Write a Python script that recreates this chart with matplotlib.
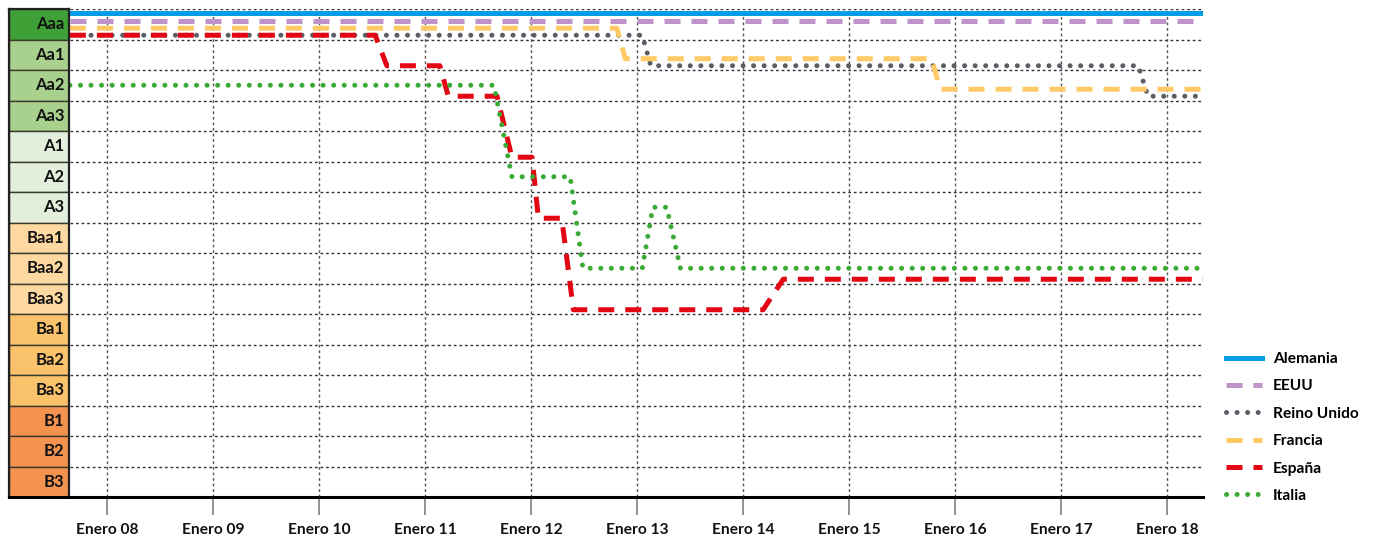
import matplotlib
matplotlib.use("Agg")
import matplotlib.pyplot as plt
from matplotlib.patches import Rectangle
from matplotlib.lines import Line2D

plt.rcParams['font.family'] = ['Lato', 'DejaVu Sans']

# Rating scale, best to worst
ratings = ["Aaa", "Aa1", "Aa2", "Aa3", "A1", "A2", "A3",
           "Baa1", "Baa2", "Baa3", "Ba1", "Ba2", "Ba3", "B1", "B2", "B3"]
rating_colors = ["#40a038"] + ["#a9d18e"] * 3 + ["#e2efda"] * 3 + \
                ["#fdd8a0"] * 3 + ["#f9c26b"] * 3 + ["#f4934f"] * 3

years = list(range(2008, 2019))
year_labels = ["Enero %02d" % (y % 100) for y in years]

# Rating history of each country (decimal year, rating)
alemania_t = [2007.65, 2018.34]
alemania_r = ["Aaa", "Aaa"]

eeuu_t = [2007.65, 2018.34]
eeuu_r = ["Aaa", "Aaa"]

reino_unido_t = [2007.65, 2013.05, 2013.13, 2017.73, 2017.82, 2018.34]
reino_unido_r = ["Aaa", "Aaa", "Aa1", "Aa1", "Aa2", "Aa2"]

francia_t = [2007.65, 2012.81, 2012.89, 2015.78, 2015.86, 2018.34]
francia_r = ["Aaa", "Aaa", "Aa1", "Aa1", "Aa2", "Aa2"]

espana_t = [2007.65, 2010.53, 2010.64, 2011.14, 2011.22, 2011.68, 2011.82,
            2012.01, 2012.07, 2012.29, 2012.40, 2014.19, 2014.38, 2018.34]
espana_r = ["Aaa", "Aaa", "Aa1", "Aa1", "Aa2", "Aa2", "A1",
            "A1", "A3", "A3", "Baa3", "Baa3", "Baa2", "Baa2"]

italia_t = [2007.65, 2011.65, 2011.82, 2012.37, 2012.49, 2013.05, 2013.15,
            2013.28, 2013.41, 2018.34]
italia_r = ["Aa2", "Aa2", "A2", "A2", "Baa2", "Baa2", "A3",
            "A3", "Baa2", "Baa2"]

LW = 3.6  # points
series = [
    ("Alemania", alemania_t, alemania_r, -0.38,
     dict(color="#009fe3", linestyle="-")),
    ("EEUU", eeuu_t, eeuu_r, -0.12,
     dict(color="#c094c8", linestyle=(0, (3.2, 2.2)))),
    ("Reino Unido", reino_unido_t, reino_unido_r, 0.36,
     dict(color="#595e66", linestyle=(0, (0.01, 2.1)),
          dash_capstyle="round")),
    ("Francia", francia_t, francia_r, 0.13,
     dict(color="#ffc966", linestyle=(0, (3.2, 2.2)))),
    ("España", espana_t, espana_r, 0.36,
     dict(color="#e30613", linestyle=(0, (3.2, 2.2)))),
    ("Italia", italia_t, italia_r, 0.0,
     dict(color="#3aaa35", linestyle=(0, (0.01, 2.1)),
          dash_capstyle="round")),
]

W, H = 1381, 540
fig = plt.figure(figsize=(W / 100, H / 100), dpi=100)

x0, x1 = 70, 1203
y_top, y_bot = 9, 497
ax = fig.add_axes([x0 / W, 1 - y_bot / H, (x1 - x0) / W, (y_bot - y_top) / H])
ax.set_xlim(2007.651, 2018.340)
ax.set_ylim(len(ratings) - 0.5, -0.5)

# Grid
for i in range(len(ratings)):
    ax.axhline(i - 0.5, color="#333333", lw=1.0, ls=(0, (2, 2)), zorder=1)
for y in years:
    ax.axvline(y, color="#555555", lw=1.0, ls=(0, (2, 2)), zorder=1)

idx = {r: i for i, r in enumerate(ratings)}
handles = []
for name, t, r, off, st in series:
    yv = [idx[v] + off for v in r]
    ax.plot(t, yv, lw=LW, solid_joinstyle="miter", zorder=3, **st)
    handles.append(Line2D([], [], lw=LW, **st))

for s in ["top", "right", "left"]:
    ax.spines[s].set_visible(False)
ax.spines["bottom"].set_linewidth(2.2)
ax.spines["bottom"].set_color("#000000")
ax.set_yticks([])
ax.set_xticks(years)
ax.set_xticklabels(year_labels, fontsize=11.2, fontweight="bold",
                   color="#111111")
ax.tick_params(axis="x", length=13, width=1.2, color="#808080", pad=6)

# Rating column
cx0, cx1 = 9, 69
cax = fig.add_axes([cx0 / W, 1 - y_bot / H, (cx1 - cx0) / W, (y_bot - y_top) / H])
cax.set_xlim(0, 1)
cax.set_ylim(len(ratings) - 0.5, -0.5)
for i, (r, c) in enumerate(zip(ratings, rating_colors)):
    cax.add_patch(Rectangle((0, i - 0.5), 1, 1, facecolor=c,
                            edgecolor="#3a3a2a", lw=1.0))
    cax.text(0.92, i, r, ha="right", va="center", fontsize=12,
             fontweight="bold", color="#111111")
cax.set_xticks([])
cax.set_yticks([])
for s in cax.spines.values():
    s.set_linewidth(1.6)
    s.set_color("#222222")
cax.spines["bottom"].set_linewidth(2.2)
cax.spines["bottom"].set_color("#000000")

fig.legend(handles, [s[0] for s in series],
           loc="upper left", bbox_to_anchor=(1212 / W, 1 - 338 / H),
           frameon=False, prop=dict(weight="bold", size=11.2),
           handlelength=2.3, handletextpad=0.7, labelspacing=0.86)

fig.savefig("out.png", dpi=100)
